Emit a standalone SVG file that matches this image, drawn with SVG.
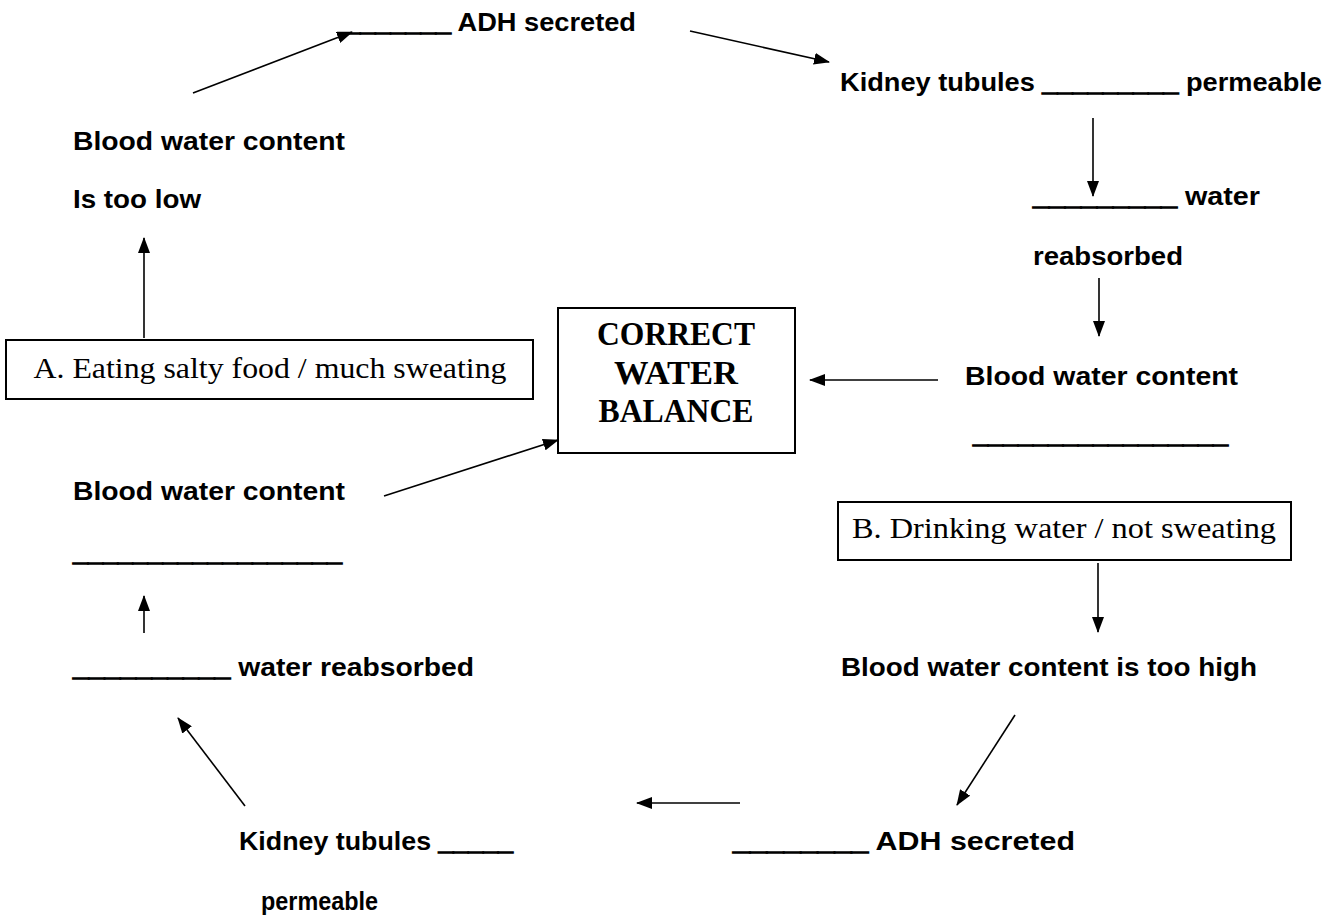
<svg xmlns="http://www.w3.org/2000/svg" width="1334" height="922" viewBox="0 0 1334 922">
<style>
.t{font-family:"Liberation Sans",Arial,sans-serif;font-weight:bold;font-size:26px;fill:#000}
.u{stroke:#000;stroke-width:1.4}
.s{font-family:"Liberation Serif","Times New Roman",serif;font-size:29px;fill:#000}
.sb{font-family:"Liberation Serif","Times New Roman",serif;font-weight:bold;font-size:33px;fill:#000}
.box{fill:#fff;stroke:#000;stroke-width:2}
.c{stroke:#000;stroke-width:1.6;fill:none;marker-end:url(#ah)}
</style>
<defs>
<marker id="ah" markerUnits="userSpaceOnUse" markerWidth="16" markerHeight="12" refX="15" refY="6" orient="auto">
<path d="M0,0 L16,6 L0,12 z" fill="#000"/>
</marker>
</defs>
<rect width="1334" height="922" fill="#fff"/>
<g id="connectors">
<line class="c" x1="193" y1="93" x2="352" y2="32"/>
<line class="c" x1="690" y1="31" x2="829" y2="62"/>
<line class="c" x1="1093" y1="118" x2="1093" y2="196"/>
<line class="c" x1="1099" y1="278" x2="1099" y2="336"/>
<line class="c" x1="938" y1="380" x2="810" y2="380"/>
<line class="c" x1="144" y1="338" x2="144" y2="238"/>
<line class="c" x1="384" y1="496" x2="558" y2="440"/>
<line class="c" x1="144" y1="633" x2="144" y2="596"/>
<line class="c" x1="1098" y1="563" x2="1098" y2="632"/>
<line class="c" x1="1015" y1="715" x2="957" y2="805"/>
<line class="c" x1="740" y1="803" x2="637" y2="803"/>
<line class="c" x1="245" y1="806" x2="178" y2="718"/>
</g>
<g id="n-adh-top"><text class="t" x="345" y="31" textLength="291" lengthAdjust="spacingAndGlyphs"><tspan class="u">_______</tspan> ADH secreted</text></g>
<g id="n-kidney-top"><text class="t" x="840" y="91" textLength="482" lengthAdjust="spacingAndGlyphs">Kidney tubules <tspan class="u">_________</tspan> permeable</text></g>
<g id="n-water-top"><text class="t" x="1033" y="205" textLength="227" lengthAdjust="spacingAndGlyphs"><tspan class="u">_________</tspan> water</text>
<text class="t" x="1033" y="265" textLength="150" lengthAdjust="spacingAndGlyphs">reabsorbed</text></g>
<g id="n-blood-right"><text class="t" x="965" y="385" textLength="273" lengthAdjust="spacingAndGlyphs">Blood water content</text>
<text class="t u" x="973" y="443" textLength="255" lengthAdjust="spacingAndGlyphs">_________________</text></g>
<g id="n-balance"><rect class="box" x="558" y="308" width="237" height="145"/>
<text class="sb" x="676" y="345" text-anchor="middle" textLength="158" lengthAdjust="spacingAndGlyphs">CORRECT</text>
<text class="sb" x="676" y="384" text-anchor="middle" textLength="124" lengthAdjust="spacingAndGlyphs">WATER</text>
<text class="sb" x="676" y="422" text-anchor="middle" textLength="155" lengthAdjust="spacingAndGlyphs">BALANCE</text></g>
<g id="n-low"><text class="t" x="73" y="150" textLength="272" lengthAdjust="spacingAndGlyphs">Blood water content</text>
<text class="t" x="73" y="208" textLength="128" lengthAdjust="spacingAndGlyphs">Is too low</text></g>
<g id="n-a"><rect class="box" x="6" y="340" width="527" height="59"/>
<text class="s" x="270" y="378" text-anchor="middle" textLength="473" lengthAdjust="spacingAndGlyphs">A. Eating salty food / much sweating</text></g>
<g id="n-blood-left"><text class="t" x="73" y="500" textLength="272" lengthAdjust="spacingAndGlyphs">Blood water content</text>
<text class="t u" x="73" y="561" textLength="269" lengthAdjust="spacingAndGlyphs">__________________</text></g>
<g id="n-water-left"><text class="t" x="73" y="676" textLength="401" lengthAdjust="spacingAndGlyphs"><tspan class="u">__________</tspan> water reabsorbed</text></g>
<g id="n-b"><rect class="box" x="838" y="502" width="453" height="58"/>
<text class="s" x="1064" y="538" text-anchor="middle" textLength="424" lengthAdjust="spacingAndGlyphs">B. Drinking water / not sweating</text></g>
<g id="n-high"><text class="t" x="841" y="676" textLength="416" lengthAdjust="spacingAndGlyphs">Blood water content is too high</text></g>
<g id="n-adh-bottom"><text class="t" x="733" y="850" textLength="342" lengthAdjust="spacingAndGlyphs"><tspan class="u">________</tspan> ADH secreted</text></g>
<g id="n-kidney-bottom"><text class="t" x="239" y="850" textLength="274" lengthAdjust="spacingAndGlyphs">Kidney tubules <tspan class="u">_____</tspan></text>
<text class="t" x="261" y="910" textLength="117" lengthAdjust="spacingAndGlyphs">permeable</text></g>
</svg>
